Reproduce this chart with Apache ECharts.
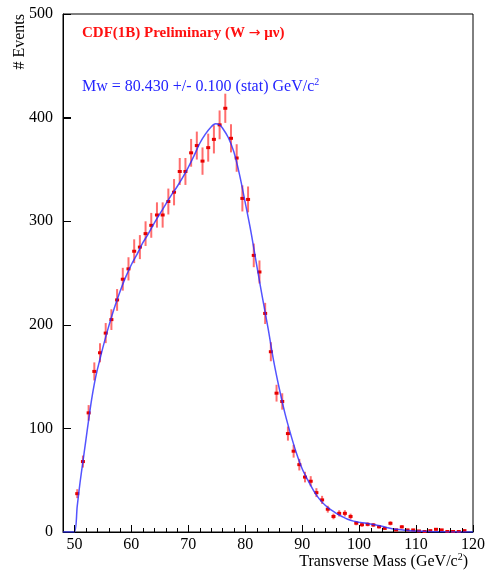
<!DOCTYPE html>
<html>
<head>
<meta charset="utf-8">
<script src="https://cdn.jsdelivr.net/npm/echarts@6/dist/echarts.min.js"></script>
<style>html,body{margin:0;padding:0;background:#fff}#c{width:488px;height:575px}</style>
</head>
<body>
<div id="c"></div>
<script>
// Bin centres (GeV/c^2)
const binCenters = [50.5,51.5,52.5,53.5,54.5,55.5,56.5,57.5,58.5,59.5,60.5,61.5,62.5,63.5,64.5,65.5,66.5,67.5,68.5,69.5,70.5,71.5,72.5,73.5,74.5,75.5,76.5,77.5,78.5,79.5,80.5,81.5,82.5,83.5,84.5,85.5,86.5,87.5,88.5,89.5,90.5,91.5,92.5,93.5,94.5,95.5,96.5,97.5,98.5,99.5,100.5,101.5,102.5,103.5,104.5,105.5,106.5,107.5,108.5,109.5,110.5,111.5,112.5,113.5,114.5,115.5,116.5,117.5,118.5];
// Events per bin
const events = [37,68,115,155,173,192,205,224,244,254,271,275,288,296,306,306,319,328,348,348,366,373,358,371,379,393,409,380,361,322,321,267,251,211,174,134,126,95,78,65,53,49,38,31,22,15,18,18,15,8.5,7,7.4,6.8,5,3.5,8.4,2,5,2,2,1,0.5,1.3,2.6,2,0.5,0.5,0.5,1.3];
// Error half-lengths
const errors = [4.3,5.8,7.5,8.7,9.2,9.7,10,10.5,11,11.2,11.5,11.6,11.9,12,12.2,12.2,12.5,12.7,13,13,13.4,13.5,13.2,13.5,13.6,13.9,14.1,13.6,13.3,12.6,12.5,11.4,11.1,10.2,9.2,8.1,7.9,6.8,6.2,5.6,5.1,4.9,4.3,3.9,3.3,2.7,3,3,2.7,2,1.9,1.9,1.8,1.6,1.3,2,1,1.6,1,1,0.7,0.5,0.8,1.1,1,0.5,0.5,0.5,0.8];
// Fit curve
const fitX = [48,49,50,50.5,51,51.5,52,52.5,53,53.5,54,54.5,55,56,57,58,59,60,61,62,63,64,65,66,67,68,69,70,71,72,73,74,74.8,75.5,76,77,78,79,80,81,82,83,84,85,86,87,88,89,90,91,92,93,94,95,96,97,98,99,100,101,102,103,104,105,106,107,108,110,112,115,120];
const fitY = [0,0,0,25,48,68,88,108,127,143,156,167,178,198,216,232,246,258,268,279,288,298,307,316,325,333,342,352,363,375,384,391,394,393,390,381,367,345,318,290,258,227,197,165,138,114,94,76,61,50,40,32,26,21.5,18,15,12.3,10.5,9.5,8.6,7.7,6.7,5.6,4.2,3,2.3,1.8,1.0,0.5,0.2,0];
// Tick values
const xMajorTicks = [50,60,70,80,90,100,110,120];
const xMinorTicks = [52,54,56,58,62,64,66,68,72,74,76,78,82,84,86,88,92,94,96,98,102,104,106,108,112,114,116,118];
const yMajorTicks = [100,200,300,400];

const pts = binCenters.map((x,i)=>[x, events[i], errors[i]]);
const fit = fitX.map((x,i)=>[x, fitY[i]]);
const serif = '"Liberation Serif","DejaVu Serif",serif';

const chart = echarts.init(document.getElementById('c'), null, {renderer:'canvas'});
chart.setOption({
  animation:false,
  backgroundColor:'#fff',
  grid:{left:63,right:14,top:14,bottom:43,show:true,borderColor:'#000',borderWidth:1,backgroundColor:'transparent'},
  title:[
    {text:'CDF(1B) Preliminary (W {a|→} μν)',left:77,top:21,textStyle:{color:'#ff1010',fontFamily:serif,fontWeight:'bold',fontSize:15,rich:{a:{fontFamily:'"DejaVu Sans"',fontSize:14,fontWeight:'normal',color:'#ff1010'}}}},
    {text:'Mw = 80.430 +/- 0.100 (stat) GeV/c{s|2}',left:77,top:72,textStyle:{color:'#2424ff',fontFamily:serif,fontWeight:'normal',fontSize:16,rich:{s:{fontSize:10,color:'#2424ff',fontFamily:serif,padding:[0,0,10,0]}}}},
    {text:'Transverse Mass (GeV/c{s|2})',right:15,top:547,textStyle:{color:'#000',fontFamily:serif,fontWeight:'normal',fontSize:16,rich:{s:{fontSize:10,color:'#000',fontFamily:serif,padding:[0,0,10,0]}}}}
  ],
  graphic:[
    {type:'text',x:20,y:14,rotation:Math.PI/2,style:{text:'# Events',fill:'#000',font:'16px '+serif,align:'right',verticalAlign:'middle'}}
  ],
  xAxis:{type:'value',min:48,max:120,
     axisLine:{show:true,lineStyle:{color:'#000',width:1}},
     axisTick:{show:true,inside:true,length:7,customValues:xMajorTicks,lineStyle:{color:'#000',width:1}},
     axisLabel:{show:true,customValues:xMajorTicks,color:'#000',fontFamily:serif,fontSize:16,margin:5},
     splitLine:{show:false}},
  yAxis:{type:'value',min:0,max:500,interval:100,
     axisLine:{show:true,lineStyle:{color:'#000',width:1}},
     axisTick:{show:true,inside:true,length:8,lineStyle:{color:'#000',width:1}},
     axisLabel:{color:'#000',fontFamily:serif,fontSize:16,margin:10},
     splitLine:{show:false}},
  series:[
    {type:'custom',data:pts,z:3,
     renderItem:function(params,api){
       const x=api.value(0), y=api.value(1), e=api.value(2);
       const p=api.coord([x,y]);
       const top=api.coord([x,y+e]);
       const bot=api.coord([x,Math.max(0,y-e)]);
       return {type:'group',children:[
         {type:'line',shape:{x1:p[0],y1:top[1],x2:p[0],y2:bot[1]},style:{stroke:'rgba(255,60,60,0.75)',lineWidth:2}},
         {type:'rect',shape:{x:p[0]-2,y:p[1]-1.5,width:4,height:3},style:{fill:'#e80000'}}
       ]};
     }},
    {type:'line',data:fit,smooth:0.3,showSymbol:false,z:4,
     lineStyle:{color:'rgba(40,40,255,0.8)',width:1.5}}
  ]
});

// Extra tick marks placed through the chart's own axis scales
const tickEls = [];
const y0 = chart.convertToPixel({yAxisIndex:0}, 0);
const xLeft = chart.convertToPixel({xAxisIndex:0}, 48);
xMinorTicks.forEach(v=>{
  const px = Math.round(chart.convertToPixel({xAxisIndex:0}, v)) + 0.5;
  tickEls.push({type:'line',z:100,silent:true,shape:{x1:px,y1:y0,x2:px,y2:y0-4},style:{stroke:'#000',lineWidth:1}});
});
xMajorTicks.forEach(v=>{
  const px = Math.round(chart.convertToPixel({xAxisIndex:0}, v)) + 0.5;
  tickEls.push({type:'line',z:100,silent:true,shape:{x1:px,y1:y0,x2:px,y2:y0-7},style:{stroke:'#000',lineWidth:1}});
});
yMajorTicks.forEach(v=>{
  const py = Math.round(chart.convertToPixel({yAxisIndex:0}, v)) + 0.5;
  tickEls.push({type:'line',z:100,silent:true,shape:{x1:xLeft,y1:py,x2:xLeft+8,y2:py},style:{stroke:'#000',lineWidth:1}});
});
chart.setOption({graphic:[
  {type:'text',x:20,y:14,rotation:Math.PI/2,style:{text:'# Events',fill:'#000',font:'16px '+serif,align:'right',verticalAlign:'middle'}}
].concat(tickEls)});
</script>
</body>
</html>
